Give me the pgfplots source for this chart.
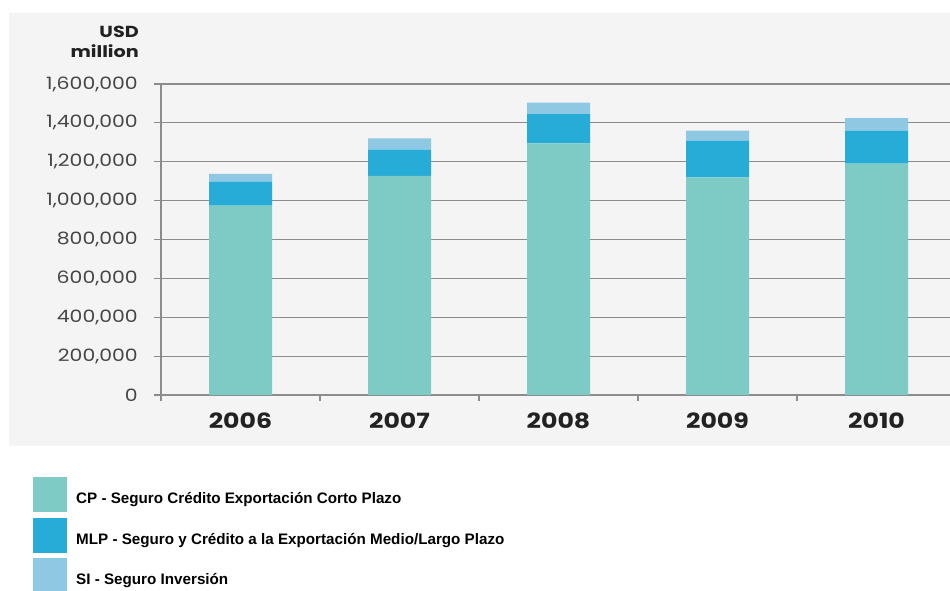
\documentclass[border=0pt]{standalone}
\usepackage{pgfplots}
\pgfplotsset{compat=1.18}
\usepackage{fontspec}
\setmainfont{Poppins}
\newfontfamily\tickfont[FakeStretch=1.2]{Poppins}
\newfontfamily\legfont{Liberation Sans}
\definecolor{cpcol}{RGB}{126,203,198}
\definecolor{mlpcol}{RGB}{38,172,214}
\definecolor{sicol}{RGB}{142,200,226}
\definecolor{bgcol}{RGB}{244,244,244}
\definecolor{gridcol}{RGB}{140,140,140}
\definecolor{tickcol}{RGB}{70,70,70}
\definecolor{yearcol}{RGB}{34,34,34}
\begin{document}
\begin{tikzpicture}
\useasboundingbox (0pt,0pt) rectangle (950pt,-590pt);
\fill[bgcol] (9pt,-13pt) rectangle (950pt,-446pt);
\node[anchor=east, align=right, inner sep=0pt, font=\fontsize{16}{20}\tickfont\bfseries, text=yearcol] at (139pt,-42pt) {USD\\million};
\begin{axis}[
  at={(161pt,-395pt)}, anchor=south west,
  scale only axis, width=789pt, height=311pt,
  xmin=-0.5, xmax=4.462, ymin=0, ymax=1600000,
  ybar stacked, bar width=63pt,
  axis lines=left, axis line style={-, draw=gridcol, line width=1.2pt},
  xtick={0,1,2,3,4},
  xticklabels={2006,2007,2008,2009,2010},
  minor xtick={-0.5,0.5,1.5,2.5,3.5},
  major x tick style={draw=none},
  minor x tick style={draw=gridcol, line width=1.2pt},
  minor tick length=6pt,
  ytick={0,200000,...,1600000},
  scaled y ticks=false,
  ymajorgrids, major grid style={draw=gridcol, line width=1.2pt},
  major y tick style={draw=gridcol, line width=1.2pt},
  major tick length=7pt,
  tick align=outside,
  /pgf/number format/.cd, fixed, 1000 sep={,}, assume math mode=true,
  /pgfplots/.cd,
  yticklabel style={font=\fontsize{17}{19}\tickfont, text=tickcol, inner sep=0pt, xshift=-16pt},
  xticklabel style={font=\fontsize{21}{24}\tickfont\bfseries, text=yearcol, yshift=-7pt},
  legend image code/.code={\fill[#1] (0pt,-13.5pt) rectangle (34pt,21.5pt);},
  legend style={at={(-0.1622,-0.2637)}, anchor=north west, draw=none, fill=none,
    inner sep=0pt, font=\fontsize{15.2}{17}\selectfont\legfont\bfseries,
    nodes={inner sep=0pt}, row sep=5.5pt, column sep=9pt},
  legend cell align=left,
]
\addplot[fill=cpcol, draw=none] coordinates {(0,974000) (1,1128000) (2,1295000) (3,1120000) (4,1191000)};
\addplot[fill=mlpcol, draw=none] coordinates {(0,123000) (1,134000) (2,150000) (3,188000) (4,169000)};
\addplot[fill=sicol, draw=none] coordinates {(0,41000) (1,58000) (2,59000) (3,52000) (4,65000)};
\legend{CP - Seguro Crédito Exportación Corto Plazo, MLP - Seguro y Crédito a la Exportación Medio/Largo Plazo, SI - Seguro Inversión}
\end{axis}
\end{tikzpicture}
\end{document}
